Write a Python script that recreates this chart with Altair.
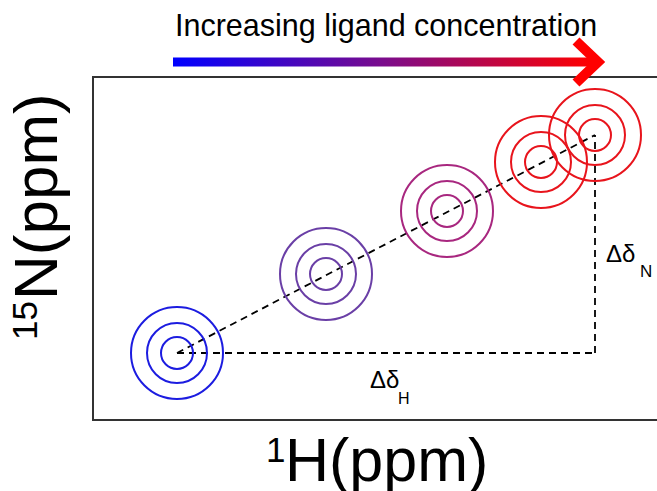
import altair as alt
import pandas as pd

# ---- data ----
# peak positions for each titration step (1H ppm, 15N ppm)
steps = ["free", "step 1", "step 2", "step 3", "bound"]
h_ppm = [8.177, 8.326, 8.447, 8.541, 8.595]
n_ppm = [121.38, 122.17, 122.80, 123.29, 123.56]
step_colors = ["#1c1ce0", "#6a3fa6", "#a8277f", "#e8141c", "#e8141c"]
contour_radii = [16, 30, 46]  # contour ring radii (px)

title_text = "Increasing ligand concentration"
x_title = ["1", "H(ppm)"]
y_title = ["15", "N(ppm)"]
delta_h = ["Δδ", "H"]
delta_n = ["Δδ", "N"]

FONT = "Liberation Sans"

xs = alt.Scale(domain=[8.0, 8.657], nice=False, zero=False)
ys = alt.Scale(domain=[120.0, 124.91], nice=False, zero=False)

def X(f="h"):
    return alt.X(f"{f}:Q", scale=xs, axis=None)

def Y(f="n"):
    return alt.Y(f"{f}:Q", scale=ys, axis=None)

# contour rings
rows = []
for s, h, n, c in zip(steps, h_ppm, n_ppm, step_colors):
    for r in contour_radii:
        rows.append({"step": s, "h": h, "n": n, "color": c, "size": (2 * r) ** 2})
rings_df = pd.DataFrame(rows)

rings = alt.Chart(rings_df).mark_point(shape="circle", filled=False, strokeWidth=2, opacity=1).encode(
    x=X(), y=Y(),
    size=alt.Size("size:Q", scale=None, legend=None),
    color=alt.Color("color:N", scale=None, legend=None),
)

# dashed guide lines
h0, n0, h1, n1 = h_ppm[0], n_ppm[0], h_ppm[-1], n_ppm[-1]
guides_df = pd.DataFrame([
    {"h": h0, "n": n0, "h2": h1, "n2": n1},
    {"h": h0, "n": n0, "h2": h1, "n2": n0},
    {"h": h1, "n": n0, "h2": h1, "n2": n1},
])
guides = alt.Chart(guides_df).mark_rule(color="black", strokeWidth=1.8, strokeDash=[7, 5]).encode(
    x=X(), y=Y(), x2="h2:Q", y2="n2:Q"
)

# frame of the spectrum
frame_df = pd.DataFrame([{"h": 8.093, "h2": 8.72, "n": 124.14, "n2": 120.71}])
frame = alt.Chart(frame_df).mark_rect(fill="white", fillOpacity=0, stroke="#333333", strokeWidth=2).encode(
    x=X(), x2="h2:Q", y=Y(), y2="n2:Q"
)

# gradient arrow
bar_df = pd.DataFrame([{"h": 8.173, "h2": 8.592, "n": 124.335, "n2": 124.245}])
bar = alt.Chart(bar_df).mark_rect(
    color=alt.Gradient(
        gradient="linear",
        stops=[alt.GradientStop(color="#0000ff", offset=0),
               alt.GradientStop(color="#7a0c8c", offset=0.5),
               alt.GradientStop(color="#ff0000", offset=1)],
        x1=0, x2=1, y1=0, y2=0,
    )
).encode(x=X(), x2="h2:Q", y=Y(), y2="n2:Q")

head_df = pd.DataFrame([
    {"h": 8.576, "n": 124.50, "o": 0},
    {"h": 8.598, "n": 124.29, "o": 1},
    {"h": 8.576, "n": 124.08, "o": 2},
])
head = alt.Chart(head_df).mark_line(color="#ff0000", strokeWidth=10, strokeJoin="miter", strokeCap="butt").encode(
    x=X(), y=Y(), order="o:Q"
)

# texts
text_df = pd.DataFrame([
    {"h": 8.175, "n": 124.55, "t": title_text, "s": 30.5, "a": 0},
    {"h": 8.266, "n": 120.29, "t": x_title[0], "s": 35, "a": 0},
    {"h": 8.285, "n": 120.10, "t": x_title[1], "s": 61, "a": 0},
    {"h": 8.037, "n": 121.51, "t": y_title[0], "s": 35, "a": 270},
    {"h": 8.057, "n": 121.91, "t": y_title[1], "s": 62, "a": 270},
    {"h": 8.370, "n": 121.03, "t": delta_h[0], "s": 24, "a": 0},
    {"h": 8.398, "n": 120.87, "t": delta_h[1], "s": 16, "a": 0},
    {"h": 8.606, "n": 122.29, "t": delta_n[0], "s": 24, "a": 0},
    {"h": 8.640, "n": 122.14, "t": delta_n[1], "s": 17, "a": 0},
])
texts = alt.Chart(text_df).mark_text(align="left", baseline="alphabetic", font=FONT, color="black").encode(
    x=X(), y=Y(), text="t:N",
    size=alt.Size("s:Q", scale=None, legend=None),
    angle=alt.Angle("a:Q", scale=None),
)

chart = alt.layer(frame, guides, rings, bar, head, texts).properties(
    width=657, height=491, padding=0, autosize=alt.AutoSizeParams(type="none"),
    background="white",
).configure_view(stroke=None)

chart.save("out.html", embed_options={"renderer": "svg", "actions": False})
